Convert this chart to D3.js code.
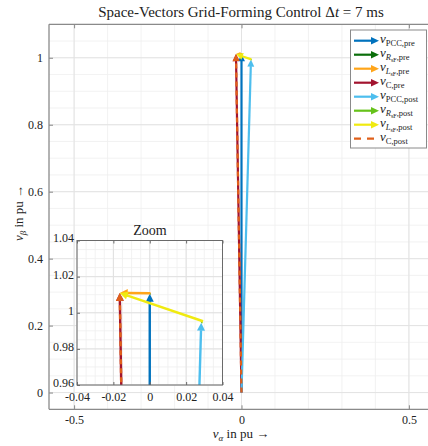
<!DOCTYPE html>
<html><head><meta charset="utf-8">
<script src="https://cdn.jsdelivr.net/npm/d3@7"></script>
<style>body{margin:0;background:#fff}svg{display:block}text{font-family:"Liberation Serif","DejaVu Serif",serif;fill:#222}</style>
</head><body>
<svg id="c" width="428" height="446"></svg>
<script>
// ---- data ----
const seriesNames = ["PCC,pre","RsF,pre","LsF,pre","C,pre","PCC,post","RsF,post","LsF,post","C,post"];
const seriesColors = ["#0072BD","#0B6E0B","#FFA51A","#A2142F","#4DBEEE","#66C21A","#F0EA10","#E0601A"];
const seriesDashed = [false,false,false,false,false,false,false,true];
// vector origins (x,y) and components (u,v) in pu
const originX = [0, 0,      0.0004, 0, 0, 0.0283, 0.0293, 0];
const originY = [0, 1.0105, 1.0108, 0, 0, 0.9945, 0.9953, 0];
const compU   = [0, 0.0004, -0.0169, -0.0165, 0.0283, 0.0010, -0.0458, -0.0165];
const compV   = [1.0105, 0.0003, 0.0002, 1.011, 0.9945, 0.0008, 0.0157, 1.011];
const mainXTicks = [-0.5, 0, 0.5];
const mainYTicks = [0, 0.2, 0.4, 0.6, 0.8, 1];
const zoomTicks = [-0.04, -0.02, 0, 0.02, 0.04];
const zoomYTicks = [0.96, 0.98, 1, 1.02, 1.04];

const svg = d3.select("#c");
const x = d3.scaleLinear().domain([-0.575, 0.575]).range([49, 434]);
const y = d3.scaleLinear().domain([-0.05, 1.1]).range([409.3, 24.3]);

function grid(g, xs, ys, xMinor, yMinor, x0, x1, y0, y1){
  g.append("g").selectAll("line").data(xMinor).join("line")
    .attr("x1",d=>xs(d)).attr("x2",d=>xs(d)).attr("y1",y0).attr("y2",y1)
    .attr("stroke","#efefef").attr("stroke-width",0.8);
  g.append("g").selectAll("line").data(yMinor).join("line")
    .attr("y1",d=>ys(d)).attr("y2",d=>ys(d)).attr("x1",x0).attr("x2",x1)
    .attr("stroke","#efefef").attr("stroke-width",0.8);
}
const rng=(a,b,s)=>d3.range(Math.round(a/s),Math.round(b/s)+1).map(i=>+(i*s).toFixed(6));

// main grid
const mg = svg.append("g");
grid(mg, x, y, rng(-0.5,0.5,0.1), rng(-0.05,1.1,0.05), 49, 434, 24.3, 409.3);
mg.append("g").selectAll("line").data(mainXTicks).join("line")
  .attr("x1",d=>x(d)).attr("x2",d=>x(d)).attr("y1",24.3).attr("y2",409.3).attr("stroke","#e3e3e3");
mg.append("g").selectAll("line").data(mainYTicks).join("line")
  .attr("y1",d=>y(d)).attr("y2",d=>y(d)).attr("x1",49).attr("x2",434).attr("stroke","#e3e3e3");

// arrows
function drawArrows(g, xs, ys, head, lw){
  seriesNames.forEach((n,i)=>{
    const x0=xs(originX[i]), y0=ys(originY[i]);
    const x1=xs(originX[i]+compU[i]), y1=ys(originY[i]+compV[i]);
    const dx=x1-x0, dy=y1-y0, L=Math.hypot(dx,dy);
    if(L<0.01) return;
    const ux=dx/L, uy=dy/L;
    const h=Math.min(head, L*0.8), w=h*0.5;
    const bx=x1-ux*h, by=y1-uy*h;
    g.append("line").attr("x1",x0).attr("y1",y0).attr("x2",bx+ux*0.5).attr("y2",by+uy*0.5)
      .attr("stroke",seriesColors[i]).attr("stroke-width",lw)
      .attr("stroke-dasharray",seriesDashed[i]?"5,4":null);
    g.append("path").attr("d",`M${x1},${y1}L${bx-uy*w},${by+ux*w}L${bx+uy*w},${by-ux*w}Z`)
      .attr("fill",seriesColors[i]);
  });
}
drawArrows(svg.append("g"), x, y, 7, 2.2);

const styleTicks = (col, fs)=>g=>{g.select(".domain").remove();g.selectAll("line").attr("stroke",col);
  g.selectAll("text").attr("font-size",fs).attr("fill","#222").attr("font-family","Liberation Serif");};
const tf = d=>d===0?"0":d===1?"1":String(d);

// main axes box
const ax = svg.append("g");
ax.append("line").attr("x1",49).attr("x2",434).attr("y1",24.3).attr("y2",24.3).attr("stroke","#8a8a8a").attr("stroke-width",1.3);
ax.append("line").attr("x1",49).attr("x2",434).attr("y1",409.3).attr("y2",409.3).attr("stroke","#8a8a8a").attr("stroke-width",1.3);
ax.append("line").attr("x1",49).attr("x2",49).attr("y1",24.3).attr("y2",409.3).attr("stroke","#8a8a8a").attr("stroke-width",1.3);
ax.append("g").attr("transform","translate(0,409.3)")
  .call(d3.axisBottom(x).tickValues(mainXTicks).tickSize(-4).tickPadding(6).tickFormat(tf))
  .call(styleTicks("#8a8a8a",12));
ax.append("g").attr("transform","translate(0,24.3)")
  .call(d3.axisTop(x).tickValues(mainXTicks).tickSize(-4).tickFormat(""))
  .call(styleTicks("#8a8a8a",12));
ax.append("g").attr("transform","translate(49,0)")
  .call(d3.axisLeft(y).tickValues(mainYTicks).tickSize(-4).tickPadding(6).tickFormat(tf))
  .call(styleTicks("#8a8a8a",12));

// title
svg.append("text").attr("x",241).attr("y",17).attr("text-anchor","middle").attr("font-size",15)
  .html('Space-Vectors Grid-Forming Control Δ<tspan font-style="italic">t</tspan> = 7 ms');
// axis labels
svg.append("text").attr("x",241).attr("y",438).attr("text-anchor","middle").attr("font-size",13)
  .html('<tspan font-style="italic">v</tspan><tspan font-size="9" dy="3" font-style="italic">α</tspan><tspan dy="-3"> in pu →</tspan>');
svg.append("text").attr("transform","translate(23,213) rotate(-90)").attr("text-anchor","middle").attr("font-size",13)
  .html('<tspan font-style="italic">v</tspan><tspan font-size="9" dy="3" font-style="italic">β</tspan><tspan dy="-3"> in pu →</tspan>');

// ---- inset ----
const zx = d3.scaleLinear().domain([-0.04,0.04]).range([77,222.5]);
const zy = d3.scaleLinear().domain([0.96,1.04]).range([385,240.5]);
const ins = svg.append("g");
ins.append("rect").attr("x",77).attr("y",240.5).attr("width",145.5).attr("height",144.5).attr("fill","#fff");
grid(ins, zx, zy, rng(-0.04,0.04,0.005), rng(0.96,1.04,0.005), 77, 222.5, 240.5, 385);
ins.append("g").selectAll("line").data(zoomTicks).join("line")
  .attr("x1",d=>zx(d)).attr("x2",d=>zx(d)).attr("y1",240.5).attr("y2",385).attr("stroke","#e0e0e0");
ins.append("g").selectAll("line").data(zoomYTicks).join("line")
  .attr("y1",d=>zy(d)).attr("y2",d=>zy(d)).attr("x1",77).attr("x2",222.5).attr("stroke","#e0e0e0");
svg.append("clipPath").attr("id","zc").append("rect").attr("x",77).attr("y",240.5).attr("width",145.5).attr("height",144.5);
drawArrows(ins.append("g").attr("clip-path","url(#zc)"), zx, zy, 8, 2.4);
ins.append("rect").attr("x",77).attr("y",240.5).attr("width",145.5).attr("height",144.5).attr("fill","none").attr("stroke","#6a6a6a").attr("stroke-width",1);
ins.append("g").attr("transform","translate(0,385)")
  .call(d3.axisBottom(zx).tickValues(zoomTicks).tickSize(-3).tickPadding(7.5).tickFormat(tf))
  .call(styleTicks("#6a6a6a",12));
ins.append("g").attr("transform","translate(0,240.5)")
  .call(d3.axisTop(zx).tickValues(zoomTicks).tickSize(-3).tickFormat(""))
  .call(styleTicks("#6a6a6a",12));
ins.append("g").attr("transform","translate(77,0)")
  .call(d3.axisLeft(zy).tickValues(zoomYTicks).tickSize(-3).tickPadding(3).tickFormat(tf))
  .call(styleTicks("#6a6a6a",12))
  .call(g=>g.selectAll("text").attr("dy","0.12em"));
svg.append("text").attr("x",150).attr("y",235).attr("text-anchor","middle").attr("font-size",14).text("Zoom");

// ---- legend ----
const lg = svg.append("g");
lg.append("rect").attr("x",350.5).attr("y",30).attr("width",76).attr("height",118).attr("fill","#fff").attr("stroke","#8a8a8a").attr("stroke-width",1);
function legendLabel(n){
  const [base, tag] = n.split(",");
  let sub;
  if(base.startsWith("R")||base.startsWith("L")){
    sub = `<tspan font-style="italic" font-size="8.5" dy="3">${base[0]}</tspan><tspan font-size="6" dy="1.5">sF</tspan><tspan font-size="8.5" dy="-1.5">,${tag}</tspan><tspan dy="-3"></tspan>`;
  } else {
    sub = `<tspan font-size="8.5" dy="3">${base},${tag}</tspan><tspan dy="-3"></tspan>`;
  }
  return `<tspan font-style="italic" font-size="13">v</tspan>${sub}`;
}
seriesNames.forEach((n,i)=>{
  const yy = 40.7 + i*14;
  const c = seriesColors[i];
  if(seriesDashed[i]){
    lg.append("line").attr("x1",354).attr("x2",378).attr("y1",yy).attr("y2",yy).attr("stroke",c).attr("stroke-width",2.2).attr("stroke-dasharray","7,6");
  } else {
    lg.append("line").attr("x1",354).attr("x2",372).attr("y1",yy).attr("y2",yy).attr("stroke",c).attr("stroke-width",2.2);
    lg.append("path").attr("d",`M379,${yy}L371,${yy-3.8}L371,${yy+3.8}Z`).attr("fill",c);
  }
  lg.append("text").attr("x",380).attr("y",yy+2.5).html(legendLabel(n));
});
</script>
</body></html>
